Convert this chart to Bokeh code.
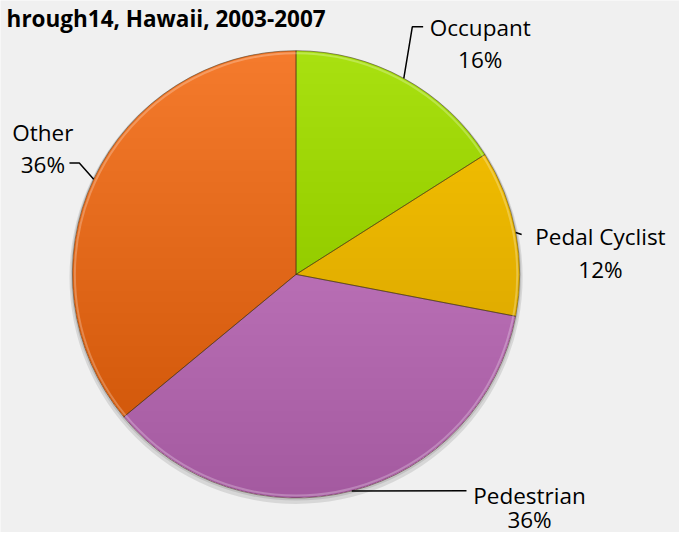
import numpy as np
from bokeh.plotting import figure
from bokeh.models import Range1d, ColumnDataSource
from bokeh.core.properties import value
from bokeh.embed import file_html
from bokeh.resources import INLINE

# ---- data ----
categories = ["Occupant", "Pedal Cyclist", "Pedestrian", "Other"]
percent = [16, 12, 36, 36]
title_text = "hrough14, Hawaii, 2003-2007"

# ---- styles ----
colors = ["#A8E010", "#F8C400", "#CC82C8", "#F47A2C"]
bg = "#F0F0F0"
font = "Open Sans"

W, H = 679, 532
s = H / 540.0
p = figure(width=W, height=H, x_range=Range1d(0, W / s), y_range=Range1d(-540, 0),
           output_backend="svg", toolbar_location=None, min_border=0)
p.axis.visible = False
p.grid.visible = False
p.outline_line_color = None
p.background_fill_color = bg
p.border_fill_color = bg

cx, cy, r = 300, -278, 227
frac = np.array(percent, dtype=float) / sum(percent)
cum = np.concatenate([[0.0], np.cumsum(frac)])
start = np.pi / 2 - cum[1:] * 2 * np.pi
end = np.pi / 2 - cum[:-1] * 2 * np.pi
mid = (start + end) / 2

# soft shadow rim
p.circle(x=cx, y=cy - 3, radius=r + 3, fill_color="#000000", fill_alpha=0.10, line_color=None)
p.circle(x=cx, y=cy - 1, radius=r + 1.5, fill_color="#000000", fill_alpha=0.10, line_color=None)

src = ColumnDataSource(dict(start=start, end=end, color=colors, cat=categories))
p.wedge(x=cx, y=cy, radius=r, start_angle="start", end_angle="end", fill_color="color",
        line_color=None, source=src)

# vertical shading: stacked translucent circle segments (darker toward bottom)
N = 40
seg_xs, seg_ys = [], []
for k in range(N):
    yk = cy + r - (k + 1) * (2 * r) / (N + 1)
    t = np.arcsin(np.clip((yk - cy) / r, -1, 1))
    ang = np.linspace(t, -np.pi - t, 80)
    seg_xs.append(list(cx + r * np.cos(ang)))
    seg_ys.append(list(cy + r * np.sin(ang)))
p.patches(xs=seg_xs, ys=seg_ys, fill_color="#000000", fill_alpha=0.0048, line_color=None)

# slice separators and rim
p.wedge(x=cx, y=cy, radius=r, start_angle="start", end_angle="end", fill_color=None,
        line_color="#3a2a10", line_alpha=0.45, line_width=1, source=src)
p.circle(x=cx, y=cy, radius=r - 2.5, fill_color=None, line_color="#FFFFFF", line_alpha=0.25, line_width=2)

# leader lines: start on rim at slice mid-angle
rim_x = cx + r * np.cos(mid)
rim_y = cy + r * np.sin(mid)
elbows = {
    "Occupant": [(418, -26.7), (429, -26.7)],
    "Pedal Cyclist": [(529, -237.5)],
    "Pedestrian": [(473, -497.5)],
    "Other": [(80, -165), (70, -165)],
}
xs, ys = [], []
for i, c in enumerate(categories):
    pts = [(rim_x[i], rim_y[i])] + elbows[c]
    xs.append([q[0] for q in pts])
    ys.append([q[1] for q in pts])
p.multi_line(xs=xs, ys=ys, line_color="#000000", line_width=1.5)

# labels (name line and percent line)
label_pos = {
    "Occupant": (487, -27.5, -59.5),
    "Pedal Cyclist": (609, -239.5, -273.5),
    "Pedestrian": (537, -502, -527),
    "Other": (43, -133.5, -166),
}
lx, ly, lt = [], [], []
for c, v in zip(categories, percent):
    x0, y1, y2 = label_pos[c]
    lx += [x0, x0]
    ly += [y1, y2]
    lt += [c, f"{v}%"]
p.text(x=lx, y=ly, text=lt, text_align="center", text_baseline="alphabetic",
       text_font=value(font), text_font_size="22.5px", text_color="#000000")

p.text(x=[330], y=[-18], text=[title_text], text_align="right", text_baseline="alphabetic",
       text_font=value(font), text_font_size="22.5px", text_font_style="bold", text_color="#000000")

open("out.html", "w").write(file_html(p, INLINE))
